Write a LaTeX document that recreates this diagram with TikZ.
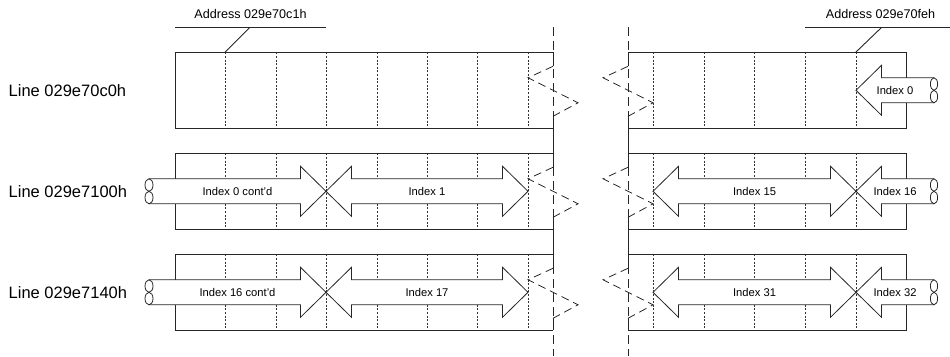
\documentclass[tikz,border=0pt]{standalone}
\usepackage{fontspec}
\setmainfont{Liberation Sans}
\tikzset{
  boxline/.style={line width=0.9pt, black!85},
  divider/.style={line width=0.6pt, dash pattern=on 2pt off 1.6pt, black!80},
  breakline/.style={line width=1pt, black!85, dash pattern=on 9pt off 5pt},
  zig/.style={line width=0.8pt, black!85, dash pattern=on 8pt off 5pt},
  arrowline/.style={draw=black!85, line width=0.8pt, line join=miter},
  curl/.style={draw=black!85, line width=0.8pt},
  idx/.style={font=\fontsize{11.2}{13}\selectfont, inner sep=0pt},
  linelbl/.style={font=\fontsize{16.5}{19}\selectfont, inner sep=0pt, anchor=west},
  addr/.style={font=\fontsize{12.6}{15}\selectfont, inner sep=0pt},
}
% double arrow: name, left tip, right tip, centre y, label
\newcommand\MemDArrow[5]{%
  \draw[arrowline, fill=white] (#2,#4) -- (#2+25.5,#4-25) -- (#2+25.5,#4-12.5)
    -- (#3-25.5,#4-12.5) -- (#3-25.5,#4-25) -- (#3,#4) -- (#3-25.5,#4+25)
    -- (#3-25.5,#4+12.5) -- (#2+25.5,#4+12.5) -- (#2+25.5,#4+25) -- cycle;
  \node[idx] (#1) at ({(#2+#3)/2},#4) {#5};}
% right-pointing arrow with curled tail at left: name, tail x, tip x, centre y, label
\newcommand\MemRArrow[5]{%
  \fill[white] (#2,#4-12.5) -- (#3-25.5,#4-12.5) -- (#3-25.5,#4-25) -- (#3,#4)
    -- (#3-25.5,#4+25) -- (#3-25.5,#4+12.5) -- (#2,#4+12.5) -- cycle;
  \draw[arrowline] (#2,#4-12.5) -- (#3-25.5,#4-12.5) -- (#3-25.5,#4-25) -- (#3,#4)
    -- (#3-25.5,#4+25) -- (#3-25.5,#4+12.5) -- (#2,#4+12.5);
  \draw[curl] (#2,#4-6.25) ellipse [x radius=4pt, y radius=6.25pt];
  \draw[curl] (#2,#4+6.25) ellipse [x radius=4pt, y radius=6.25pt];
  \node[idx] (#1) at ({(#2+#3)/2},#4) {#5};}
% left-pointing arrow with curled tail at right: name, tip x, tail x, centre y, label
\newcommand\MemLArrow[5]{%
  \fill[white] (#3,#4-12.5) -- (#2+25.5,#4-12.5) -- (#2+25.5,#4-25) -- (#2,#4)
    -- (#2+25.5,#4+25) -- (#2+25.5,#4+12.5) -- (#3,#4+12.5) -- cycle;
  \draw[arrowline] (#3,#4-12.5) -- (#2+25.5,#4-12.5) -- (#2+25.5,#4-25) -- (#2,#4)
    -- (#2+25.5,#4+25) -- (#2+25.5,#4+12.5) -- (#3,#4+12.5);
  \draw[curl] (#3,#4-6.25) ellipse [x radius=3.6pt, y radius=6.25pt];
  \draw[curl] (#3,#4+6.25) ellipse [x radius=3.6pt, y radius=6.25pt];
  \node[idx] (#1) at ({(#2+#3)/2},#4) {#5};}
\begin{document}
\begin{tikzpicture}[x=1pt,y=-1pt]
\useasboundingbox (0,0) rectangle (950,356);

% break lines
\draw[breakline] (553,27) -- (553,356);
\draw[breakline] (628,27) -- (628,356);

% boxes and dividers
\foreach \T in {52.3,153.3,254.3}{
  \foreach \x in {225,276,326,377,427,477,528}
    \draw[divider] (\x,\T) -- (\x,\T+76);
  \foreach \x in {653,704,754,805,856}
    \draw[divider] (\x,\T) -- (\x,\T+76);
  \draw[boxline] (553,\T) -- (175,\T) -- (175,\T+76) -- (553,\T+76);
  \draw[boxline] (628,\T) -- (906,\T) -- (906,\T+76) -- (628,\T+76);
}

% solid edge pieces at the cut
\foreach \x in {553,628}{
  \draw[boxline] (\x,52.3) -- (\x,66.3);
  \draw[boxline] (\x,116.3) -- (\x,167.3);
  \draw[boxline] (\x,217.3) -- (\x,268.3);
  \draw[boxline] (\x,318.3) -- (\x,330.3);
}

% arrows
\MemLArrow{i0}{856}{934}{90.3}{Index 0}
\MemRArrow{i0c}{149}{326}{191.3}{Index 0 cont'd}
\MemDArrow{i1}{326}{528}{191.3}{Index 1}
\MemDArrow{i15}{653}{856}{191.3}{Index 15}
\MemLArrow{i16}{856}{934}{191.3}{Index 16}
\MemRArrow{i16c}{149}{326}{292.3}{Index 16 cont'd}
\MemDArrow{i17}{326}{528}{292.3}{Index 17}
\MemDArrow{i31}{653}{856}{292.3}{Index 31}
\MemLArrow{i32}{856}{934}{292.3}{Index 32}

% zigzag cut marks
\foreach \T in {52.3,153.3,254.3}{
  \draw[zig] (553,\T+14) -- (528,\T+25.5) -- (578,\T+50.5) -- (553,\T+64);
  \draw[zig] (628,\T+14) -- (603,\T+25.5) -- (653,\T+50.5) -- (628,\T+64);
}

% line labels
\node[linelbl] (l1) at (8.5,90.8) {Line 029e70c0h};
\node[linelbl] (l2) at (8.5,191.8) {Line 029e7100h};
\node[linelbl] (l3) at (8.5,292.8) {Line 029e7140h};

% address labels and leaders
\node[addr] (a1) at (250.5,14) {Address 029e70c1h};
\coordinate (a1l) at (175,27.3);
\coordinate (a1r) at (326,27.3);
\coordinate (a1k) at (250,27.3);
\coordinate (a1t) at (225,52.3);
\draw[boxline] (a1l) -- (a1r);
\draw[boxline] (a1k) -- (a1t);

\node[addr] (a2) at (880.5,14) {Address 029e70feh};
\coordinate (a2l) at (805,27.3);
\coordinate (a2r) at (950,27.3);
\coordinate (a2k) at (881.7,27.3);
\coordinate (a2t) at (855.7,52.3);
\draw[boxline] (a2l) -- (a2r);
\draw[boxline] (a2k) -- (a2t);
\end{tikzpicture}
\end{document}
